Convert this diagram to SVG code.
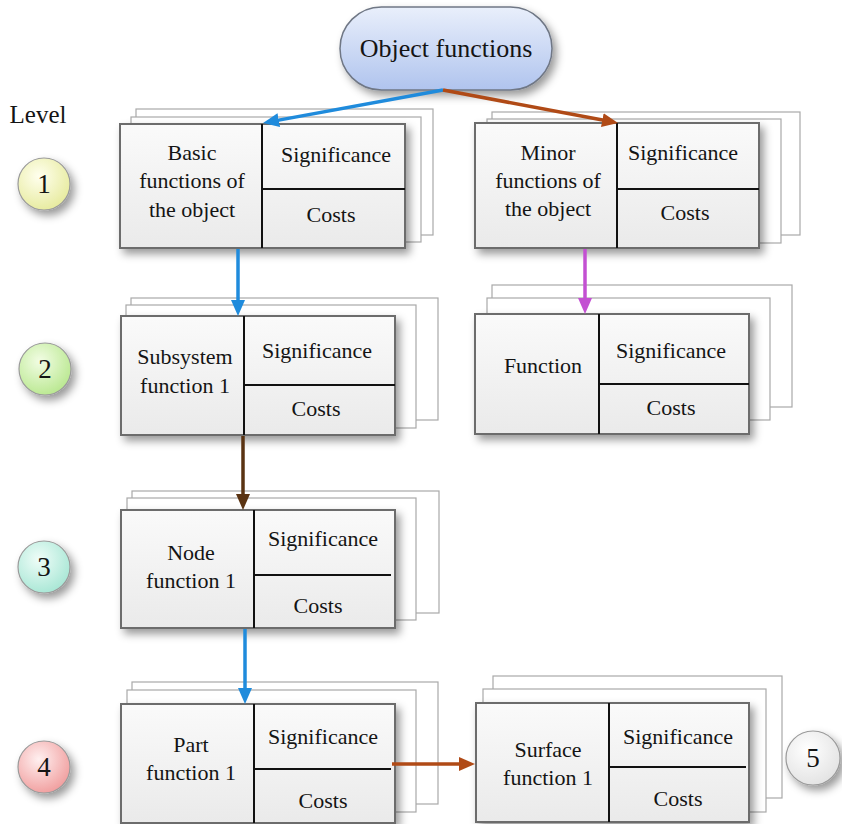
<svg xmlns="http://www.w3.org/2000/svg" width="842" height="824" viewBox="0 0 842 824" font-family="'Liberation Serif', 'Times New Roman', serif">
  <defs>
    <style>
      text { font-family: "Liberation Serif", "Times New Roman", serif; fill: #141414; text-anchor: middle; }
      .t { font-size: 22px; }
      .num { font-size: 27px; }
      .card { fill: #ffffff; stroke: #a9a9a9; stroke-width: 1.2; }
      .main { fill: url(#boxFill); stroke: #6c6c6c; stroke-width: 2; filter: url(#shadow); }
      .div { stroke: #111111; stroke-width: 2; fill: none; }
      .conn { fill: none; stroke-width: 3.5; }
      .circ { stroke: #9a9a9a; stroke-width: 1.2; filter: url(#shadow); }
    </style>
    <linearGradient id="boxFill" x1="0" y1="0" x2="0" y2="1">
      <stop offset="0" stop-color="#fafafa"/>
      <stop offset="1" stop-color="#eaeaea"/>
    </linearGradient>
    <linearGradient id="topFill" x1="0" y1="0" x2="0" y2="1">
      <stop offset="0" stop-color="#e9effb"/>
      <stop offset="1" stop-color="#b0c4ee"/>
    </linearGradient>
    <radialGradient id="g1" cx="0.4" cy="0.35" r="0.7">
      <stop offset="0" stop-color="#ffffee"/>
      <stop offset="1" stop-color="#e6ea9c"/>
    </radialGradient>
    <radialGradient id="g2" cx="0.4" cy="0.35" r="0.7">
      <stop offset="0" stop-color="#f2fde4"/>
      <stop offset="1" stop-color="#b8e78e"/>
    </radialGradient>
    <radialGradient id="g3" cx="0.4" cy="0.35" r="0.7">
      <stop offset="0" stop-color="#effdf8"/>
      <stop offset="1" stop-color="#a6e6d4"/>
    </radialGradient>
    <radialGradient id="g4" cx="0.4" cy="0.35" r="0.7">
      <stop offset="0" stop-color="#fff0f0"/>
      <stop offset="1" stop-color="#f09c9c"/>
    </radialGradient>
    <radialGradient id="g5" cx="0.4" cy="0.35" r="0.7">
      <stop offset="0" stop-color="#ffffff"/>
      <stop offset="1" stop-color="#e2e2e2"/>
    </radialGradient>
    <filter id="shadow" x="-20%" y="-20%" width="150%" height="160%">
      <feDropShadow dx="4" dy="5" stdDeviation="4" flood-color="#000000" flood-opacity="0.4"/>
    </filter>
    <marker id="mBlue" viewBox="0 0 16 14" markerWidth="16" markerHeight="14" refX="7" refY="7" orient="auto" markerUnits="userSpaceOnUse">
      <path d="M0,0 L16,7 L0,14 z" fill="#1f8bdc"/>
    </marker>
    <marker id="mBrown" viewBox="0 0 16 14" markerWidth="16" markerHeight="14" refX="7" refY="7" orient="auto" markerUnits="userSpaceOnUse">
      <path d="M0,0 L16,7 L0,14 z" fill="#b04a16"/>
    </marker>
    <marker id="mMagenta" viewBox="0 0 16 14" markerWidth="16" markerHeight="14" refX="7" refY="7" orient="auto" markerUnits="userSpaceOnUse">
      <path d="M0,0 L16,7 L0,14 z" fill="#c350d2"/>
    </marker>
    <marker id="mDark" viewBox="0 0 16 14" markerWidth="16" markerHeight="14" refX="7" refY="7" orient="auto" markerUnits="userSpaceOnUse">
      <path d="M0,0 L16,7 L0,14 z" fill="#5a3312"/>
    </marker>
  </defs>

  <rect width="842" height="824" fill="#ffffff"/>

  <!-- level scale -->
  <g id="level-label">
    <text x="38" y="123" style="font-size:25px">Level</text>
  </g>
  <g id="level-1"><circle class="circ" cx="44" cy="184" r="26" fill="url(#g1)"/><text class="num" x="44" y="193">1</text></g>
  <g id="level-2"><circle class="circ" cx="45" cy="369" r="26" fill="url(#g2)"/><text class="num" x="45" y="378">2</text></g>
  <g id="level-3"><circle class="circ" cx="44" cy="567" r="26" fill="url(#g3)"/><text class="num" x="44" y="576">3</text></g>
  <g id="level-4"><circle class="circ" cx="44" cy="767" r="26" fill="url(#g4)"/><text class="num" x="44" y="776">4</text></g>
  <g id="level-5"><circle class="circ" cx="813" cy="758" r="27" fill="url(#g5)"/><text class="num" x="813" y="767">5</text></g>

  <!-- root -->
  <g id="object-functions">
    <rect x="340" y="7" width="212" height="83" rx="41.5" fill="url(#topFill)" stroke="#6f7785" stroke-width="1.5" filter="url(#shadow)"/>
    <text x="446" y="57" style="font-size:26px">Object functions</text>
  </g>

  <!-- level 1 -->
  <g id="basic-functions">
    <rect class="card" x="136" y="109" width="297" height="126"/>
    <rect class="card" x="131" y="117" width="290" height="125"/>
    <rect class="main" x="120" y="124" width="285" height="124"/>
    <path class="div" d="M262,124 V248 M262,189 H405"/>
    <text class="t" x="192" y="160">Basic</text>
    <text class="t" x="192" y="188">functions of</text>
    <text class="t" x="192" y="217">the object</text>
    <text class="t" x="336" y="162">Significance</text>
    <text class="t" x="331" y="222">Costs</text>
  </g>

  <g id="minor-functions">
    <rect class="card" x="492" y="112" width="308" height="123"/>
    <rect class="card" x="487" y="119" width="294" height="124"/>
    <rect class="main" x="475" y="123" width="284" height="125"/>
    <path class="div" d="M617,123 V248 M617,189 H759"/>
    <text class="t" x="548" y="160">Minor</text>
    <text class="t" x="548" y="188">functions of</text>
    <text class="t" x="548" y="216">the object</text>
    <text class="t" x="683" y="160">Significance</text>
    <text class="t" x="685" y="220">Costs</text>
  </g>

  <!-- level 2 -->
  <g id="subsystem-function">
    <rect class="card" x="131" y="298" width="307" height="122"/>
    <rect class="card" x="126" y="305" width="290" height="123"/>
    <rect class="main" x="121" y="316" width="274" height="119"/>
    <path class="div" d="M244,316 V435 M244,385 H395"/>
    <text class="t" x="185" y="364">Subsystem</text>
    <text class="t" x="185" y="393">function 1</text>
    <text class="t" x="317" y="358">Significance</text>
    <text class="t" x="316" y="416">Costs</text>
  </g>

  <g id="function">
    <rect class="card" x="492" y="285" width="300" height="122"/>
    <rect class="card" x="487" y="298" width="283" height="122"/>
    <rect class="main" x="475" y="314" width="274" height="120"/>
    <path class="div" d="M599,314 V434 M599,384 H749"/>
    <text class="t" x="543" y="373">Function</text>
    <text class="t" x="671" y="358">Significance</text>
    <text class="t" x="671" y="415">Costs</text>
  </g>

  <!-- level 3 -->
  <g id="node-function">
    <rect class="card" x="132" y="491" width="307" height="122"/>
    <rect class="card" x="127" y="498" width="289" height="122"/>
    <rect class="main" x="121" y="510" width="274" height="118"/>
    <path class="div" d="M254,510 V628 M254,575 H391"/>
    <text class="t" x="191" y="560">Node</text>
    <text class="t" x="191" y="588">function 1</text>
    <text class="t" x="323" y="546">Significance</text>
    <text class="t" x="318" y="613">Costs</text>
  </g>

  <!-- level 4 -->
  <g id="part-function">
    <rect class="card" x="132" y="682" width="306" height="122"/>
    <rect class="card" x="127" y="690" width="289" height="122"/>
    <rect class="main" x="121" y="704" width="274" height="119"/>
    <path class="div" d="M254,704 V823 M254,769 H391"/>
    <text class="t" x="191" y="752">Part</text>
    <text class="t" x="191" y="780">function 1</text>
    <text class="t" x="323" y="744">Significance</text>
    <text class="t" x="323" y="808">Costs</text>
  </g>

  <!-- level 5 -->
  <g id="surface-function">
    <rect class="card" x="493" y="676" width="289" height="122"/>
    <rect class="card" x="483" y="689" width="283" height="123"/>
    <rect class="main" x="476" y="703" width="273" height="119"/>
    <path class="div" d="M609,703 V822 M609,767 H746"/>
    <text class="t" x="548" y="757">Surface</text>
    <text class="t" x="548" y="785">function 1</text>
    <text class="t" x="678" y="744">Significance</text>
    <text class="t" x="678" y="806">Costs</text>
  </g>

  <!-- connectors -->
  <g id="connectors">
    <path class="conn" stroke="#1f8bdc" d="M443,90 L271.9,121.4" marker-end="url(#mBlue)"/>
    <path class="conn" stroke="#b04a16" d="M443,90 L609.2,121.3" marker-end="url(#mBrown)"/>
    <path class="conn" stroke="#1f8bdc" d="M238,249 V307" marker-end="url(#mBlue)"/>
    <path class="conn" stroke="#c350d2" d="M585,249 V305" marker-end="url(#mMagenta)"/>
    <path class="conn" stroke="#5a3312" d="M243,436 V501" marker-end="url(#mDark)"/>
    <path class="conn" stroke="#1f8bdc" d="M245,629 V695" marker-end="url(#mBlue)"/>
    <path class="conn" stroke="#b04a16" d="M392,764 H466" marker-end="url(#mBrown)"/>
  </g>
</svg>
